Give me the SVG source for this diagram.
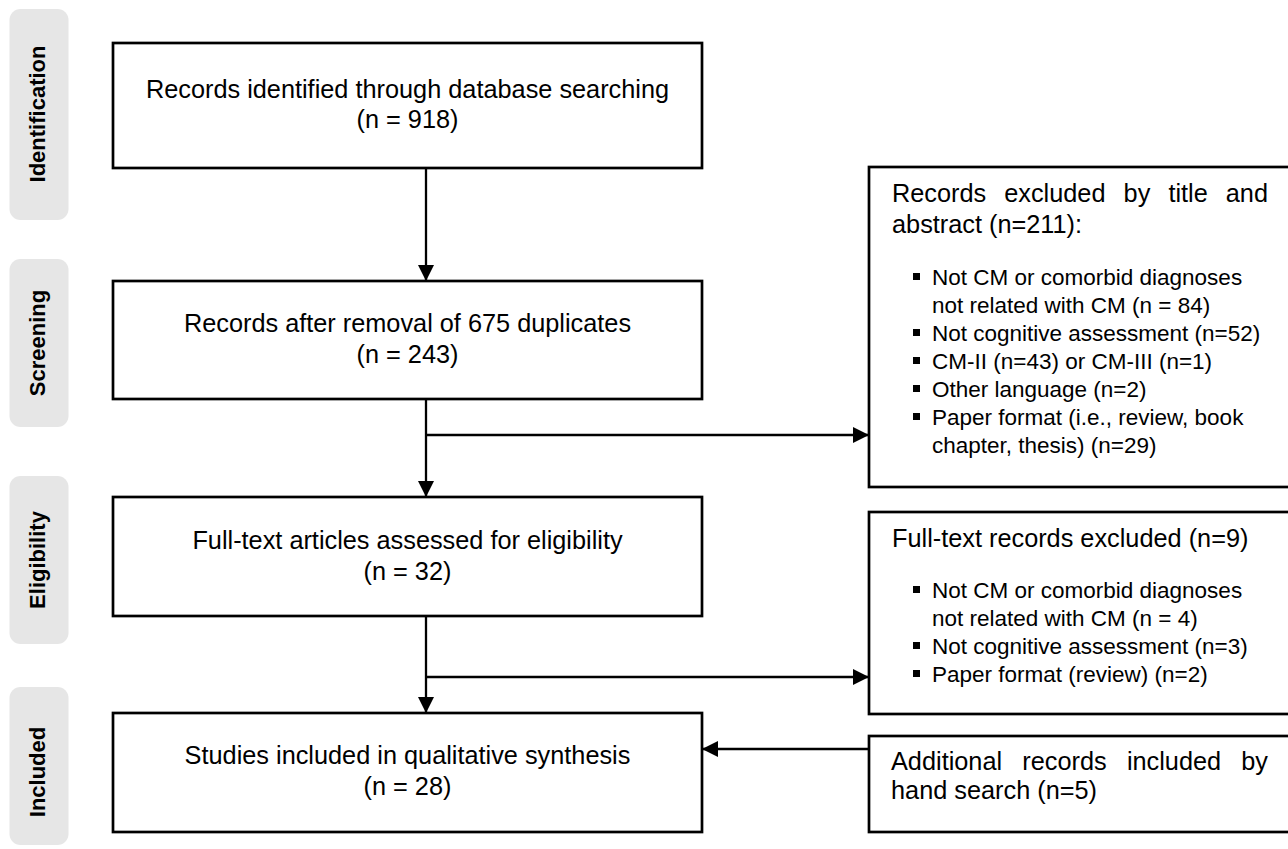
<svg xmlns="http://www.w3.org/2000/svg" width="1288" height="849" viewBox="0 0 1288 849">
<defs>
<marker id="ah" markerWidth="17" markerHeight="17" refX="16" refY="8" orient="auto" markerUnits="userSpaceOnUse" viewBox="0 0 17 16">
<path d="M0,0 L16,8 L0,16 z" fill="#000"/>
</marker>
<style>
.stage{fill:#e6e6e6}
.lbl{font-family:"Liberation Sans",Arial,sans-serif;font-weight:bold;font-size:22px;fill:#000;text-anchor:middle}
.box{fill:#fff;stroke:#000;stroke-width:2.7}
.t{font-family:"Liberation Sans",Arial,sans-serif;font-size:25.3px;fill:#000}
.s{font-family:"Liberation Sans",Arial,sans-serif;font-size:22.5px;fill:#000}
.c{text-anchor:middle}
.ln{fill:none;stroke:#000;stroke-width:2.3}
.bl{fill:#000}
</style>
</defs>
<rect width="1288" height="849" fill="#fff"/>

<g id="stage-identification"><rect class="stage" x="9.5" y="9" width="59" height="211" rx="11"/><text class="lbl" transform="translate(45,114) rotate(-90)">Identification</text></g>
<g id="stage-screening"><rect class="stage" x="9.5" y="259" width="59" height="168" rx="11"/><text class="lbl" transform="translate(45,343) rotate(-90)">Screening</text></g>
<g id="stage-eligibility"><rect class="stage" x="9.5" y="476" width="59" height="168" rx="11"/><text class="lbl" transform="translate(45,560) rotate(-90)">Eligibility</text></g>
<g id="stage-included"><rect class="stage" x="9.5" y="687" width="59" height="158" rx="11"/><text class="lbl" transform="translate(45,772) rotate(-90)">Included</text></g>

<g id="connectors">
<line class="ln" x1="426" y1="168" x2="426" y2="281" marker-end="url(#ah)"/>
<line class="ln" x1="426" y1="399" x2="426" y2="497" marker-end="url(#ah)"/>
<line class="ln" x1="426" y1="435" x2="869" y2="435" marker-end="url(#ah)"/>
<line class="ln" x1="426" y1="616" x2="426" y2="713" marker-end="url(#ah)"/>
<line class="ln" x1="426" y1="677" x2="869" y2="677" marker-end="url(#ah)"/>
<line class="ln" x1="869" y1="749" x2="702" y2="749" marker-end="url(#ah)"/>
</g>

<g id="n-identified"><rect class="box" x="113" y="43" width="589" height="125"/>
<text class="t c" x="407.5" y="98">Records identified through database searching</text>
<text class="t c" x="407.5" y="128">(n = 918)</text></g>

<g id="n-screened"><rect class="box" x="113" y="281" width="589" height="118"/>
<text class="t c" x="407.5" y="332">Records after removal of 675 duplicates</text>
<text class="t c" x="407.5" y="363">(n = 243)</text></g>

<g id="n-eligible"><rect class="box" x="113" y="497" width="589" height="119"/>
<text class="t c" x="407.5" y="549">Full-text articles assessed for eligibility</text>
<text class="t c" x="407.5" y="580">(n = 32)</text></g>

<g id="n-included"><rect class="box" x="113" y="713" width="589" height="119"/>
<text class="t c" x="407.5" y="764">Studies included in qualitative synthesis</text>
<text class="t c" x="407.5" y="795">(n = 28)</text></g>

<g id="n-excluded-title"><rect class="box" x="869" y="167" width="425" height="320"/>
<text class="t" y="202"><tspan x="892">Records</tspan><tspan x="1004.2">excluded</tspan><tspan x="1123.6">by</tspan><tspan x="1168.4">title</tspan><tspan x="1268" text-anchor="end">and</tspan></text>
<text class="t" x="892" y="233">abstract (n=211):</text>
<rect class="bl" x="913" y="273" width="7" height="7"/>
<text class="s" x="932" y="285">Not CM or comorbid diagnoses</text>
<text class="s" x="932" y="313">not related with CM (n = 84)</text>
<rect class="bl" x="913" y="329" width="7" height="7"/>
<text class="s" x="932" y="341">Not cognitive assessment (n=52)</text>
<rect class="bl" x="913" y="357" width="7" height="7"/>
<text class="s" x="932" y="369">CM-II (n=43) or CM-III (n=1)</text>
<rect class="bl" x="913" y="385" width="7" height="7"/>
<text class="s" x="932" y="397">Other language (n=2)</text>
<rect class="bl" x="913" y="413" width="7" height="7"/>
<text class="s" x="932" y="425">Paper format (i.e., review, book</text>
<text class="s" x="932" y="453">chapter, thesis) (n=29)</text></g>

<g id="n-excluded-fulltext"><rect class="box" x="869" y="512" width="425" height="202"/>
<text class="t" x="892" y="547">Full-text records excluded (n=9)</text>
<rect class="bl" x="913" y="586" width="7" height="7"/>
<text class="s" x="932" y="598">Not CM or comorbid diagnoses</text>
<text class="s" x="932" y="626">not related with CM (n = 4)</text>
<rect class="bl" x="913" y="642" width="7" height="7"/>
<text class="s" x="932" y="654">Not cognitive assessment (n=3)</text>
<rect class="bl" x="913" y="670" width="7" height="7"/>
<text class="s" x="932" y="682">Paper format (review) (n=2)</text></g>

<g id="n-hand-search"><rect class="box" x="869" y="736" width="425" height="96"/>
<text class="t" y="770"><tspan x="891">Additional</tspan><tspan x="1022.3">records</tspan><tspan x="1126.9">included</tspan><tspan x="1268" text-anchor="end">by</tspan></text>
<text class="t" x="891" y="799">hand search (n=5)</text></g>
</svg>
